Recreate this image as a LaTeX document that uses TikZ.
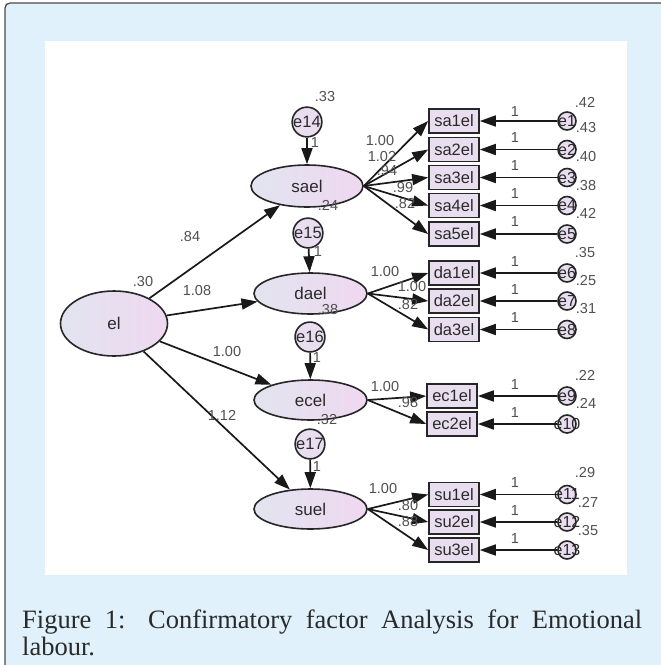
\documentclass[tikz,border=0pt]{standalone}
\usepackage{fontspec}
\setmainfont{Liberation Sans}
\newfontfamily\capfont{Liberation Serif}
\usetikzlibrary{shapes.geometric,arrows.meta}
\definecolor{framebg}{HTML}{E0F1FB}
\definecolor{frameline}{HTML}{4A4A4A}
\definecolor{latL}{HTML}{E2E4EF}
\definecolor{latR}{HTML}{EFD8F1}
\definecolor{boxfill}{HTML}{E9DEF0}
\definecolor{numcol}{HTML}{505050}
\definecolor{txtcol}{HTML}{2A2A2A}
\tikzset{
  latent/.style={ellipse,draw=black!85,line width=1.6pt,inner sep=0pt,left color=latL,right color=latR,text=txtcol,font=\fontsize{17}{19}\selectfont},
  obsbox/.style={rectangle,draw=black!85,line width=1.6pt,fill=boxfill,minimum width=50pt,minimum height=24pt,inner sep=0pt,text=txtcol,font=\fontsize{16.5}{18}\selectfont},
  errbig/.style={circle,draw=black!85,line width=1.6pt,fill=boxfill,minimum size=29pt,inner sep=0pt,text=txtcol,font=\fontsize{16.5}{18}\selectfont},
  errsm/.style={circle,draw=black!85,line width=1.6pt,fill=boxfill,minimum size=18pt,inner sep=0pt,label={[text=txtcol,font=\fontsize{16}{17}\selectfont]center:#1}},
  num/.style={text=numcol,font=\fontsize{14.5}{16}\selectfont,inner sep=0pt},
  arr/.style={-{Triangle[length=16pt,width=11pt]},line width=1.7pt,draw=black!90},
}
\begin{document}
\begin{tikzpicture}[x=1pt,y=-1pt]
\useasboundingbox (0,0) rectangle (661,665);
% frame
\fill[framebg] (5,3) rectangle (661,665);
\draw[frameline,line width=1.3pt,rounded corners=5pt] (5,665) -- (5,3) -- (661,3);
\fill[white] (45,41) rectangle (627,575);

% latent variables
\node[latent,minimum width=107pt,minimum height=65pt] (el) at (114,323.5) {el};
\node[latent,minimum width=112pt,minimum height=42pt] (sael) at (307,186) {sael};
\node[latent,minimum width=113pt,minimum height=41pt] (dael) at (310.5,293.5) {dael};
\node[latent,minimum width=113pt,minimum height=40pt] (ecel) at (310.5,400) {ecel};
\node[latent,minimum width=113pt,minimum height=40pt] (suel) at (310.5,509) {suel};

% disturbances
\node[errbig] (e14) at (307,122) {e14};
\node[errbig] (e15) at (308,233) {e15};
\node[errbig] (e16) at (310,337) {e16};
\node[errbig] (e17) at (310,444) {e17};

% observed
\node[obsbox] (sa1) at (454,121) {sa1el};
\node[obsbox] (sa2) at (454,149.5) {sa2el};
\node[obsbox] (sa3) at (454,177.5) {sa3el};
\node[obsbox] (sa4) at (454,205.5) {sa4el};
\node[obsbox] (sa5) at (454,234) {sa5el};
\node[obsbox] (da1) at (454,273) {da1el};
\node[obsbox] (da2) at (454,301) {da2el};
\node[obsbox] (da3) at (454,329.5) {da3el};
\node[obsbox] (ec1) at (452,396) {ec1el};
\node[obsbox] (ec2) at (452,424) {ec2el};
\node[obsbox] (su1) at (454,494.5) {su1el};
\node[obsbox] (su2) at (454,522) {su2el};
\node[obsbox] (su3) at (454,550) {su3el};

% errors
\node[errsm=e1] (e1) at (567,121) {};
\node[errsm=e2] (e2) at (567,149.5) {};
\node[errsm=e3] (e3) at (567,177.5) {};
\node[errsm=e4] (e4) at (567,205.5) {};
\node[errsm=e5] (e5) at (567,234) {};
\node[errsm=e6] (e6) at (567,273) {};
\node[errsm=e7] (e7) at (567,301) {};
\node[errsm=e8] (e8) at (567,329.5) {};
\node[errsm=e9] (e9) at (567,396) {};
\node[errsm=e10] (e10) at (567,424) {};
\node[errsm=e11] (e11) at (567,494.5) {};
\node[errsm=e12] (e12) at (567,522) {};
\node[errsm=e13] (e13) at (567,550) {};

% structural arrows
\draw[arr] (el) -- (sael);
\draw[arr] (el) -- (dael);
\draw[arr] (el) -- (ecel);
\draw[arr] (el) -- (suel);
\draw[arr] (e14) -- (sael);
\draw[arr] (e15) -- (dael);
\draw[arr] (e16) -- (ecel);
\draw[arr] (e17) -- (suel);

% loadings
\foreach \b in {sa1,sa2,sa3,sa4,sa5} \draw[arr] (sael.east) -- (\b.west);
\foreach \b in {da1,da2,da3} \draw[arr] (dael.east) -- (\b.west);
\foreach \b in {ec1,ec2} \draw[arr] (ecel.east) -- (\b.west);
\foreach \b in {su1,su2,su3} \draw[arr] (suel.east) -- (\b.west);

% error arrows
\foreach \e/\b in {e1/sa1,e2/sa2,e3/sa3,e4/sa4,e5/sa5,e6/da1,e7/da2,e8/da3,e9/ec1,e10/ec2,e11/su1,e12/su2,e13/su3}
  \draw[arr] (\e.west) -- (\b.east);

% variance labels
\node[num] (v30) at (143,282) {.30};
\node[num] (v33) at (325,97) {.33};
\node[num] (v24a) at (328,205) {.24};
\node[num] (v38a) at (328,310) {.38};
\node[num] (v32) at (327,420) {.32};
\node[num] (v42a) at (585,102) {.42};
\node[num] (v43) at (586,128) {.43};
\node[num] (v40) at (586,157) {.40};
\node[num] (v38b) at (586,186) {.38};
\node[num] (v42b) at (586,213) {.42};
\node[num] (v35a) at (585,253) {.35};
\node[num] (v25) at (586,281) {.25};
\node[num] (v31) at (586,309) {.31};
\node[num] (v22) at (585,375) {.22};
\node[num] (v24b) at (586,403) {.24};
\node[num] (v29) at (585,473) {.29};
\node[num] (v27) at (588,502) {.27};
\node[num] (v35b) at (588,531) {.35};

% structural weights
\node[num] (w1) at (190,237) {.84};
\node[num] (w2) at (197,291) {1.08};
\node[num] (w3) at (227,352) {1.00};
\node[num] (w4) at (222,415) {1.12};

% disturbance weights
\node[num] (d14) at (315,143) {1};
\node[num] (d15) at (318,252) {1};
\node[num] (d16) at (317,358) {1};
\node[num] (d17) at (317,467) {1};

% loadings labels
\node[num] (l1) at (380,141) {1.00};
\node[num] (l2) at (382,157) {1.02};
\node[num] (l3) at (387,171) {.94};
\node[num] (l4) at (403,188) {.99};
\node[num] (l5) at (405,204) {.82};
\node[num] (l6) at (385,272) {1.00};
\node[num] (l7) at (412,287) {1.00};
\node[num] (l8) at (408,305) {.82};
\node[num] (l9) at (385,387) {1.00};
\node[num] (l10) at (408,403) {.98};
\node[num] (l11) at (383,489) {1.00};
\node[num] (l12) at (408,506) {.80};
\node[num] (l13) at (408,522) {.88};

% error weights
\foreach \y [count=\i] in {112,138,166,194,222,262,290,318,385,413,483,511,539}
  \node[num] (ew\i) at (515,\y) {1};

% caption
\node[anchor=base west,inner sep=0pt,text=txtcol,font=\capfont\fontsize{26.5}{30}\selectfont] (cap1) at (22,628)
  {\makebox[620pt][s]{Figure 1: Confirmatory factor Analysis for Emotional}};
\node[anchor=base west,inner sep=0pt,text=txtcol,font=\capfont\fontsize{26.5}{30}\selectfont] (cap2) at (22,655) {labour.};
\end{tikzpicture}
\end{document}
